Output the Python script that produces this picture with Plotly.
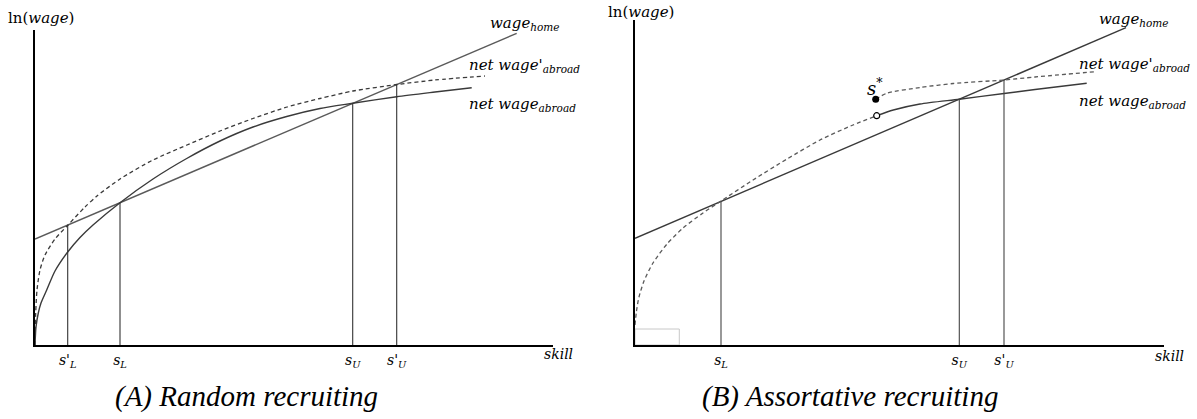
import plotly.graph_objects as go

W, H = 1197, 419

# ---------------- Panel A: Random recruiting ----------------
home_a_x = [0, 481.7]
home_a_y = [106, 311.7]

abroad_a_x = [0, 1, 3.3, 6, 11.7, 20, 32.7, 45, 58, 85, 118, 151.7, 185, 218, 251.7, 285, 317.7, 361.7, 400, 436.7]
abroad_a_y = [0, 18, 32, 42, 55, 74, 93, 107.5, 120, 142.3, 166, 186.5, 204, 218, 228.5, 236.5, 241.7, 248.3, 253, 257.3]

abroad2_a_x = [0, 0.7, 2, 5, 10, 20, 33, 50, 62, 85, 118, 152, 185, 218, 252, 285, 318, 362, 400, 450]
abroad2_a_y = [0, 32, 55, 75, 90, 106, 120, 138, 149, 166, 185, 200, 214, 226.5, 238, 246.5, 254, 260.5, 265, 269]

s_a_vals = [32.7, 85, 317.7, 361.7]
s_a_tops = [120, 142.3, 241.7, 260.5]
s_a_text = ["<i>s'<sub>L</sub></i>", "<i>s<sub>L</sub></i>", "<i>s<sub>U</sub></i>", "<i>s'<sub>U</sub></i>"]

# ---------------- Panel B: Assortative recruiting ----------------
home_b_x = [0, 491]
home_b_y = [106.7, 317.3]

low_b_x = [0, 1.5, 4, 9, 18, 32, 48, 68, 86, 118, 152, 185, 218, 241.7]
low_b_y = [20, 34, 48, 64, 82, 101, 117, 132, 144, 165, 186, 205, 220, 229.3]

solid_b_x = [241.7, 258.3, 285, 324.3, 369, 400, 451.7]
solid_b_y = [229.3, 235, 241, 245.8, 251.5, 255.5, 261.7]

upper_b_x = [240.7, 251.7, 285, 318.3, 369, 400, 460]
upper_b_y = [245.7, 251.7, 257.5, 261.5, 265, 268, 273.3]

s_b_vals = [86, 324.3, 369]
s_b_tops = [143.6, 245.8, 265]
s_b_text = ["<i>s<sub>L</sub></i>", "<i>s<sub>U</sub></i>", "<i>s'<sub>U</sub></i>"]

star_x = [240.7]
star_y = [245.7]
gap_x = [241.7]
gap_y = [229.3]

FONT = "DejaVu Serif"
CAP_FONT = "Liberation Serif"
DARK = "#3a3a3a"
GRAY = "#5a5a5a"


def vlines(xs, tops):
    X, Y = [], []
    for x, t in zip(xs, tops):
        X += [x, x, None]
        Y += [0, t, None]
    return X, Y


fig = go.Figure()


def add_line(x, y, xa, ya, color, width=1.3, dash=None, shape="spline"):
    fig.add_trace(go.Scatter(
        x=x, y=y, xaxis=xa, yaxis=ya, mode="lines",
        line=dict(color=color, width=width, dash=dash, shape=shape, smoothing=0.7),
        hoverinfo="skip", showlegend=False))


# Panel A
add_line(home_a_x, home_a_y, "x", "y", GRAY, 1.4, shape="linear")
add_line(abroad_a_x, abroad_a_y, "x", "y", DARK, 1.4)
add_line(abroad2_a_x, abroad2_a_y, "x", "y", DARK, 1.3, dash="4px,3px")
vx, vy = vlines(s_a_vals, s_a_tops)
add_line(vx, vy, "x", "y", "#333333", 1.1, shape="linear")

# Panel B
add_line(home_b_x, home_b_y, "x2", "y2", DARK, 1.4, shape="linear")
add_line(low_b_x, low_b_y, "x2", "y2", GRAY, 1.3, dash="4px,3px")
add_line(solid_b_x, solid_b_y, "x2", "y2", DARK, 1.4)
add_line(upper_b_x, upper_b_y, "x2", "y2", GRAY, 1.3, dash="4px,3px")
vx, vy = vlines(s_b_vals, s_b_tops)
add_line(vx, vy, "x2", "y2", "#444444", 1.1, shape="linear")

fig.add_trace(go.Scatter(x=star_x, y=star_y, xaxis="x2", yaxis="y2", mode="markers",
                         marker=dict(color="black", size=7), hoverinfo="skip", showlegend=False))
fig.add_trace(go.Scatter(x=gap_x, y=gap_y, xaxis="x2", yaxis="y2", mode="markers",
                         marker=dict(color="white", size=6, line=dict(color="black", width=1.2)),
                         hoverinfo="skip", showlegend=False))

fig.add_shape(type="rect", xref="x2", yref="y2", x0=0, x1=44.3, y0=0, y1=16,
              line=dict(color="#c8c8c8", width=1))


def xdom(p0, p1):
    return [p0 / W, p1 / W]


def ydom(top_px, bottom_px):
    return [1 - bottom_px / H, 1 - top_px / H]


axis_common = dict(showgrid=False, zeroline=False, showline=True, linecolor="black",
                   linewidth=2, ticks="", fixedrange=True)

fig.update_layout(
    width=W, height=H,
    margin=dict(l=0, r=0, t=0, b=0),
    paper_bgcolor="white", plot_bgcolor="white",
    xaxis=dict(domain=xdom(35, 553), range=[0, 518], anchor="y",
               tickmode="array", tickvals=s_a_vals, ticktext=s_a_text, ticklabelstandoff=1,
               tickfont=dict(family=FONT, size=14, color="black"), **axis_common),
    yaxis=dict(domain=ydom(30, 345), range=[0, 315], anchor="x",
               showticklabels=False, **axis_common),
    xaxis2=dict(domain=xdom(635, 1164), range=[0, 529], anchor="y2",
                tickmode="array", tickvals=s_b_vals, ticktext=s_b_text, ticklabelstandoff=1,
                tickfont=dict(family=FONT, size=14, color="black"), **axis_common),
    yaxis2=dict(domain=ydom(20, 345), range=[0, 325], anchor="x2",
                showticklabels=False, **axis_common),
)


def ann(text, px, py, size=15, xanchor="left", family=FONT):
    fig.add_annotation(text=text, x=px / W, y=1 - py / H, xref="paper", yref="paper",
                       xanchor=xanchor, yanchor="middle", showarrow=False,
                       font=dict(family=family, size=size, color="black"))


# Panel A labels
ann("ln(<i>wage</i>)", 41, 18, 15, "center")
ann("<i>wage<sub>home</sub></i>", 488, 24, 15)
ann("<i>net wage'<sub>abroad</sub></i>", 467, 66, 15)
ann("<i>net wage<sub>abroad</sub></i>", 467, 104, 15)
ann("<i>skill</i>", 542, 354, 14)
ann("<i>(A) Random recruiting</i>", 246, 396, 29, "center", CAP_FONT)

# Panel B labels
ann("ln(<i>wage</i>)", 641, 12, 15, "center")
ann("<i>wage<sub>home</sub></i>", 1097, 20, 15)
ann("<i>net wage'<sub>abroad</sub></i>", 1077, 64, 15)
ann("<i>net wage<sub>abroad</sub></i>", 1077, 101, 15)
ann("<i>s</i><sup>*</sup>", 875, 87, 18, "center")
ann("<i>skill</i>", 1153, 356, 14)
ann("<i>(B) Assortative recruiting</i>", 850, 396, 29, "center", CAP_FONT)

fig.write_html("out.html", config={"displayModeBar": False},
               post_script="document.body.style.margin='0';document.body.style.padding='0';")
